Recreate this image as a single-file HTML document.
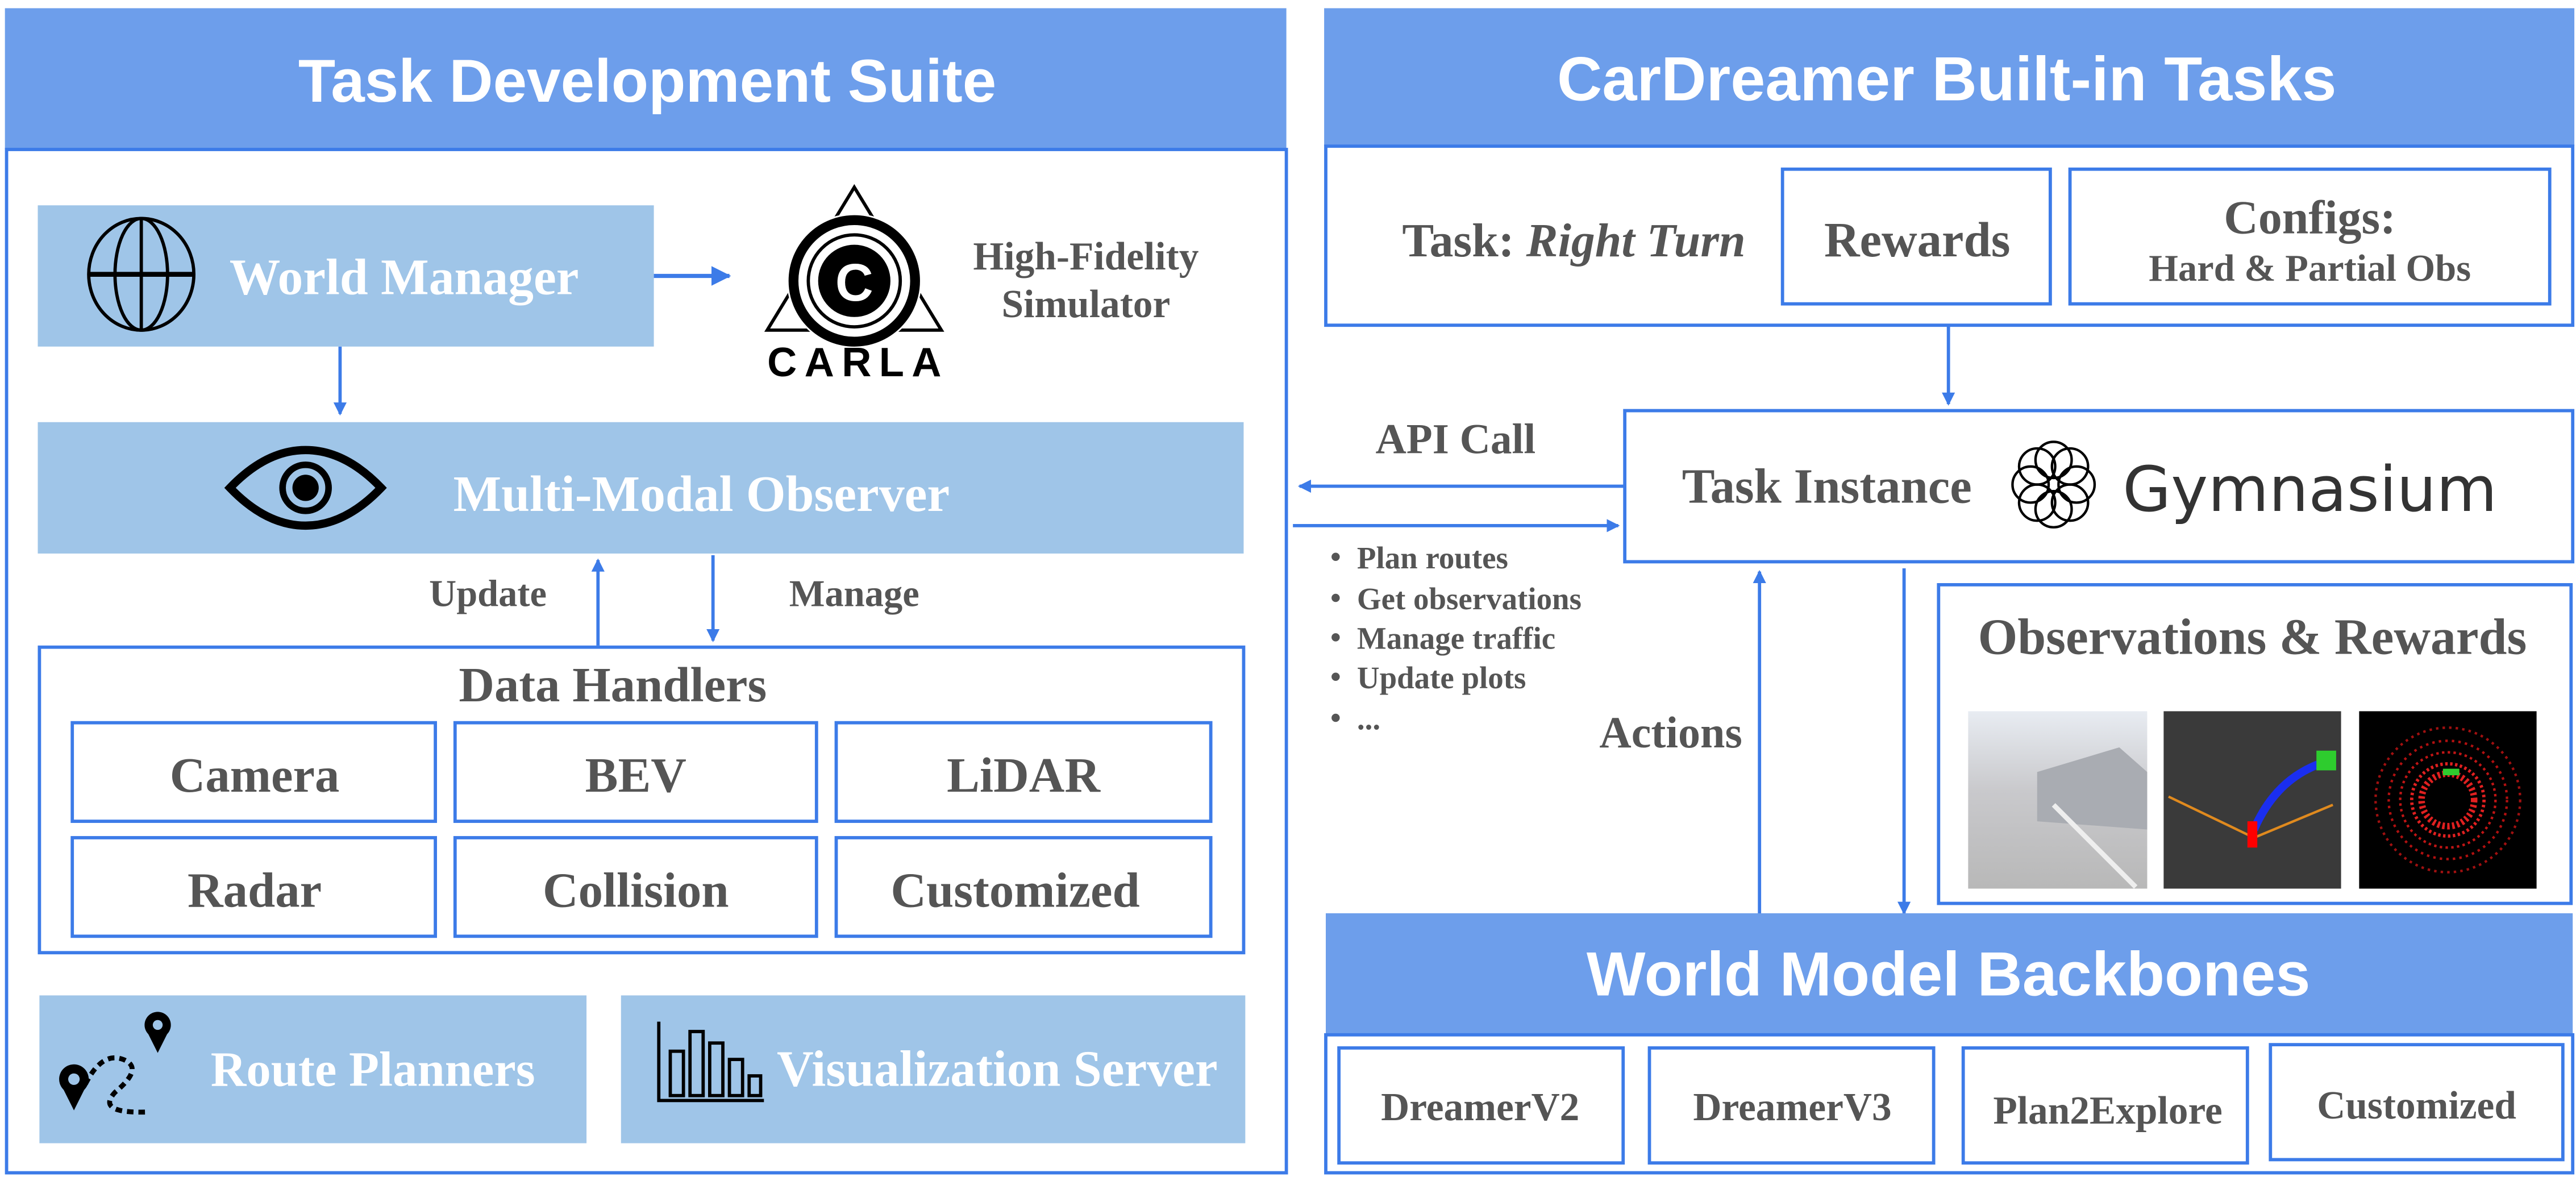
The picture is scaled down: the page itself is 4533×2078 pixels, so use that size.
<!DOCTYPE html>
<html><head><meta charset="utf-8"><style>html,body{margin:0;padding:0;background:#fff}svg{display:block}</style></head>
<body>
<svg width="4533" height="2078" viewBox="0 0 1568 719" preserveAspectRatio="none" xmlns="http://www.w3.org/2000/svg">
<defs>
<marker id="ah" markerWidth="8" markerHeight="8" refX="7" refY="4" orient="auto" markerUnits="userSpaceOnUse"><path d="M0,0 L8,4 L0,8 z" fill="#3c7be8"/></marker>
<marker id="ah2" markerWidth="12" markerHeight="12" refX="11" refY="6" orient="auto" markerUnits="userSpaceOnUse"><path d="M0,0 L12,6 L0,12 z" fill="#3c7be8"/></marker>
<linearGradient id="cam" x1="0" y1="0" x2="0" y2="1"><stop offset="0" stop-color="#e8ecf2"/><stop offset="0.45" stop-color="#c9c9cc"/><stop offset="1" stop-color="#b8b8b8"/></linearGradient>
</defs>
<g font-family="Liberation Serif, serif" font-weight="bold">
<!-- LEFT PANEL -->
<rect x="3" y="5" width="780" height="86" fill="#6d9eeb"/>
<text x="394" y="62" text-anchor="middle" font-family="Liberation Sans, sans-serif" font-size="37" fill="#fff">Task Development Suite</text>
<rect x="4" y="91" width="779" height="623" fill="none" stroke="#3c7be8" stroke-width="2"/>

<rect x="23" y="125" width="375" height="86" fill="#9fc5e8"/>
<g fill="none" stroke="#000" stroke-width="2">
<ellipse cx="86" cy="167" rx="32" ry="34"/>
<ellipse cx="86" cy="167" rx="16" ry="34"/>
<line x1="86" y1="133" x2="86" y2="201"/>
<line x1="54" y1="167" x2="118" y2="167" stroke-width="3"/>
</g>
<text x="246" y="179" text-anchor="middle" font-size="31" fill="#fff">World Manager</text>
<line x1="398" y1="168" x2="444" y2="168" stroke="#3c7be8" stroke-width="2.5" marker-end="url(#ah2)"/>

<!-- CARLA logo -->
<g>
<polygon points="520,114 467,201 573,201" fill="none" stroke="#000" stroke-width="2"/>
<circle cx="520" cy="171" r="41" fill="#fff"/>
<circle cx="520" cy="171" r="37" fill="none" stroke="#000" stroke-width="6"/>
<circle cx="520" cy="171" r="28" fill="none" stroke="#000" stroke-width="2"/>
<circle cx="520" cy="171" r="22" fill="#000"/>
<text x="520" y="183" text-anchor="middle" font-family="Liberation Sans, sans-serif" font-size="32" fill="#fff">C</text>
<text x="467" y="229" font-family="Liberation Sans, sans-serif" font-size="25" fill="#000" textLength="106" lengthAdjust="spacing">CARLA</text>
</g>
<text x="661" y="164" text-anchor="middle" font-size="24" fill="#555">High-Fidelity</text>
<text x="661" y="193" text-anchor="middle" font-size="24" fill="#555">Simulator</text>

<line x1="207" y1="211" x2="207" y2="252" stroke="#3c7be8" stroke-width="2" marker-end="url(#ah)"/>

<rect x="23" y="257" width="734" height="80" fill="#9fc5e8"/>
<g>
<path d="M140,297 Q162,274 186,274 Q210,274 232,297 Q210,320 186,320 Q162,320 140,297 z" fill="none" stroke="#000" stroke-width="5"/>
<circle cx="186" cy="297" r="14" fill="none" stroke="#000" stroke-width="4"/>
<circle cx="186" cy="297" r="8" fill="#000"/>
</g>
<text x="427" y="311" text-anchor="middle" font-size="31" fill="#fff">Multi-Modal Observer</text>

<text x="297" y="369" text-anchor="middle" font-size="23" fill="#555">Update</text>
<line x1="364" y1="393" x2="364" y2="341" stroke="#3c7be8" stroke-width="2" marker-end="url(#ah)"/>
<line x1="434" y1="338" x2="434" y2="390" stroke="#3c7be8" stroke-width="2" marker-end="url(#ah)"/>
<text x="520" y="369" text-anchor="middle" font-size="23" fill="#555">Manage</text>

<rect x="24" y="394" width="733" height="186" fill="none" stroke="#3c7be8" stroke-width="2"/>
<text x="373" y="427" text-anchor="middle" font-size="30" fill="#555">Data Handlers</text>
<g fill="none" stroke="#3c7be8" stroke-width="2">
<rect x="44" y="440" width="221" height="60"/><rect x="277" y="440" width="220" height="60"/><rect x="509" y="440" width="228" height="60"/>
<rect x="44" y="510" width="221" height="60"/><rect x="277" y="510" width="220" height="60"/><rect x="509" y="510" width="228" height="60"/>
</g>
<g font-size="30" fill="#555" text-anchor="middle">
<text x="155" y="482">Camera</text><text x="387" y="482">BEV</text><text x="623" y="482">LiDAR</text>
<text x="155" y="552">Radar</text><text x="387" y="552">Collision</text><text x="618" y="552">Customized</text>
</g>

<rect x="24" y="606" width="333" height="90" fill="#9fc5e8"/>
<path d="M52,660 Q62,640 75,645 Q88,650 70,665 Q58,678 90,677" fill="none" stroke="#000" stroke-width="3" stroke-dasharray="4,3"/>
<circle cx="45" cy="657" r="9" fill="#000"/><polygon points="37,660 53,660 45,676" fill="#000"/><circle cx="45" cy="657" r="3.5" fill="#9fc5e8"/>
<circle cx="96" cy="624" r="8" fill="#000"/><polygon points="89,627 103,627 96,641" fill="#000"/><circle cx="96" cy="624" r="3" fill="#9fc5e8"/>
<text x="227" y="661" text-anchor="middle" font-size="30" fill="#fff">Route Planners</text>

<rect x="378" y="606" width="380" height="90" fill="#9fc5e8"/>
<g fill="none" stroke="#000" stroke-width="2">
<polyline points="401,622 401,670 465,670"/>
<rect x="408" y="640" width="8" height="27"/><rect x="420" y="628" width="8" height="39"/><rect x="432" y="635" width="8" height="32"/><rect x="444" y="645" width="8" height="22"/><rect x="456" y="655" width="7" height="12"/>
</g>
<text x="607" y="661" text-anchor="middle" font-size="31" fill="#fff">Visualization Server</text>

<!-- RIGHT PANEL -->
<rect x="806" y="5" width="761" height="84" fill="#6d9eeb"/>
<text x="1185" y="61" text-anchor="middle" font-family="Liberation Sans, sans-serif" font-size="38" fill="#fff">CarDreamer Built-in Tasks</text>
<rect x="807" y="89" width="759" height="109" fill="none" stroke="#3c7be8" stroke-width="2"/>
<text x="958" y="156" text-anchor="middle" font-size="29" fill="#555">Task: <tspan font-style="italic">Right Turn</tspan></text>
<rect x="1085" y="103" width="163" height="82" fill="none" stroke="#3c7be8" stroke-width="2"/>
<text x="1167" y="156" text-anchor="middle" font-size="30" fill="#555">Rewards</text>
<rect x="1260" y="103" width="292" height="82" fill="none" stroke="#3c7be8" stroke-width="2"/>
<text x="1406" y="142" text-anchor="middle" font-size="29" fill="#555">Configs:</text>
<text x="1406" y="171" text-anchor="middle" font-size="23" fill="#555">Hard &amp; Partial Obs</text>

<line x1="1186" y1="198" x2="1186" y2="246" stroke="#3c7be8" stroke-width="2" marker-end="url(#ah)"/>

<rect x="989" y="250" width="577" height="92" fill="none" stroke="#3c7be8" stroke-width="2"/>
<text x="1112" y="306" text-anchor="middle" font-size="30" fill="#555">Task Instance</text>
<g fill="none" stroke="#000" stroke-width="1.5">
<circle cx="1240" cy="284" r="11"/><circle cx="1260" cy="284" r="11"/><circle cx="1240" cy="306" r="11"/><circle cx="1260" cy="306" r="11"/>
<circle cx="1250" cy="280" r="11"/><circle cx="1250" cy="310" r="11"/><circle cx="1236" cy="295" r="11"/><circle cx="1264" cy="295" r="11"/>
</g>
<text x="1406" y="311" text-anchor="middle" font-family="DejaVu Sans, sans-serif" font-weight="normal" font-size="38" fill="#333" textLength="228" lengthAdjust="spacingAndGlyphs">Gymnasium</text>

<line x1="989" y1="296" x2="791" y2="296" stroke="#3c7be8" stroke-width="2" marker-end="url(#ah)"/>
<text x="886" y="276" text-anchor="middle" font-size="26" fill="#555">API Call</text>
<line x1="787" y1="320" x2="985" y2="320" stroke="#3c7be8" stroke-width="2" marker-end="url(#ah)"/>
<g font-size="19" fill="#555">
<circle cx="813" cy="339" r="2.5"/><text x="826" y="346">Plan routes</text>
<circle cx="813" cy="364" r="2.5"/><text x="826" y="371">Get observations</text>
<circle cx="813" cy="388" r="2.5"/><text x="826" y="395">Manage traffic</text>
<circle cx="813" cy="412" r="2.5"/><text x="826" y="419">Update plots</text>
<circle cx="813" cy="437" r="2.5"/><text x="826" y="444">...</text>
</g>
<text x="1017" y="455" text-anchor="middle" font-size="27" fill="#555">Actions</text>
<line x1="1071" y1="557" x2="1071" y2="348" stroke="#3c7be8" stroke-width="2" marker-end="url(#ah)"/>
<line x1="1159" y1="346" x2="1159" y2="556" stroke="#3c7be8" stroke-width="2" marker-end="url(#ah)"/>

<rect x="1180" y="356" width="385" height="194" fill="none" stroke="#3c7be8" stroke-width="2"/>
<text x="1371" y="398" text-anchor="middle" font-size="31" fill="#555">Observations &amp; Rewards</text>
<rect x="1198" y="433" width="109" height="108" fill="url(#cam)"/>
<polygon points="1240,470 1290,455 1307,470 1307,505 1240,500" fill="#a9acb2"/>
<line x1="1250" y1="490" x2="1300" y2="540" stroke="#eee" stroke-width="3"/>
<rect x="1317" y="433" width="108" height="108" fill="#3a3a3a"/>
<polyline points="1320,485 1372,510 1420,490" fill="none" stroke="#e08a1e" stroke-width="1.5"/>
<path d="M1372,505 Q1385,475 1412,465" stroke="#1a2ef0" stroke-width="5" fill="none"/>
<rect x="1368" y="500" width="6" height="16" fill="#f00"/><rect x="1410" y="457" width="12" height="12" fill="#2ecc2e"/>
<rect x="1436" y="433" width="108" height="108" fill="#000"/>
<circle cx="1490" cy="487" r="44" fill="none" stroke="#a01010" stroke-width="1.5" stroke-dasharray="1.5,2.5"/>
<circle cx="1490" cy="487" r="36" fill="none" stroke="#b01010" stroke-width="1.5" stroke-dasharray="1.5,2.5"/>
<circle cx="1490" cy="487" r="29" fill="none" stroke="#c01515" stroke-width="1.5" stroke-dasharray="1.5,2"/>
<circle cx="1490" cy="487" r="22" fill="none" stroke="#e02020" stroke-width="2" stroke-dasharray="1.5,1.5"/>
<circle cx="1490" cy="487" r="16" fill="none" stroke="#e02020" stroke-width="4" stroke-dasharray="1.5,1.5"/>
<rect x="1487" y="468" width="10" height="4" fill="#2ecc2e"/>

<rect x="807" y="556" width="759" height="74" fill="#6d9eeb"/>
<text x="1186" y="606" text-anchor="middle" font-family="Liberation Sans, sans-serif" font-size="38" fill="#fff">World Model Backbones</text>
<rect x="807" y="630" width="759" height="84" fill="none" stroke="#3c7be8" stroke-width="2"/>
<g fill="none" stroke="#3c7be8" stroke-width="2">
<rect x="815" y="638" width="173" height="70"/><rect x="1004" y="638" width="173" height="70"/><rect x="1195" y="638" width="173" height="70"/><rect x="1382" y="636" width="178" height="70"/>
</g>
<g font-size="24" fill="#555" text-anchor="middle">
<text x="901" y="682">DreamerV2</text><text x="1091" y="682">DreamerV3</text><text x="1283" y="684">Plan2Explore</text><text x="1471" y="681">Customized</text>
</g>
</g>
</svg>
</body></html>
